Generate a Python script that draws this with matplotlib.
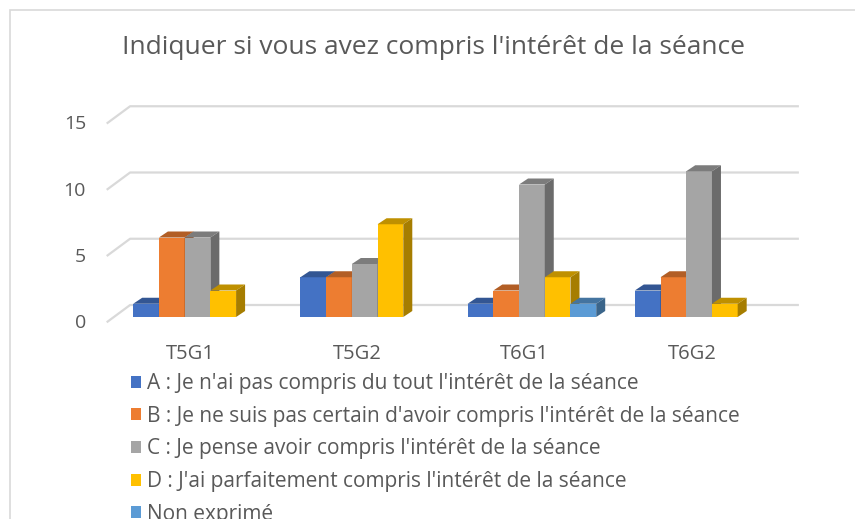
import matplotlib
matplotlib.use("Agg")
import matplotlib.pyplot as plt
from matplotlib.patches import Polygon, Rectangle, Patch
from matplotlib.transforms import offset_copy

plt.rcParams['font.family'] = ['Open Sans', 'DejaVu Sans']

groups = ['T5G1', 'T5G2', 'T6G1', 'T6G2']
series = ["A : Je n'ai pas compris du tout l'intérêt de la séance",
          "B : Je ne suis pas certain d'avoir compris l'intérêt de la séance",
          "C : Je pense avoir compris l'intérêt de la séance",
          "D : J'ai parfaitement compris l'intérêt de la séance",
          "Non exprimé"]
val_a = [1, 3, 1, 2]
val_b = [6, 3, 2, 3]
val_c = [6, 4, 10, 11]
val_d = [2, 7, 3, 1]
val_ne = [0, 0, 1, 0]
values = [val_a, val_b, val_c, val_d, val_ne]
yticks = [0, 5, 10, 15]

colors = ['#4472C4', '#ED7D31', '#A5A5A5', '#FFC000', '#5B9BD5']
grid_col = '#D9D9D9'
text_col = '#595959'


def shade(c, f):
    c = matplotlib.colors.to_rgb(c)
    return tuple(v * f for v in c)


fig = plt.figure(figsize=(8.55, 5.19), dpi=100)
W, H = 855, 519
# front plane of the bars
x0, x1 = 113.9, 782.7
y0, y1 = 317.0, 118.25
ax = fig.add_axes([x0 / W, 1 - y0 / H, (x1 - x0) / W, (y0 - y1) / H])
ax.set_xlim(-0.5, 3.5)
ax.set_ylim(0, 15)
ax.axis('off')

pxx = (x1 - x0) / 4.0      # px per category
pxy = (y0 - y1) / 15.0     # px per unit


def off(dx, dy):
    # pixel offset (right, up) -> data offset
    return dx / pxx, dy / pxy


# chart border
fig.patches.append(Rectangle((10 / W, -0.1), 1.0, (1 - 10 / H) + 0.1,
                             transform=fig.transFigure, fill=False,
                             edgecolor=grid_col, linewidth=1.2))

# gridlines: diagonal on the floor side + back wall
fx, fy = off(-7.2, -5.3)
wx, wy = off(16.2, 12.0)
lab_x = -0.5 + (86 - x0) / pxx
for t in yticks:
    ax.plot([-0.5 + fx, -0.5 + wx, 3.5 + wx], [t + fy, t + wy, t + wy],
            color=grid_col, lw=1.6, clip_on=False, zorder=1,
            solid_capstyle='butt')
    ax.text(lab_x, t, str(t),
            transform=offset_copy(ax.transData, fig, x=0, y=-6, units='dots'),
            ha='right', va='center', fontsize=14, color=text_col)

# bars
bw = 1 / 6.5
bdx, bdy = off(9, 6)
z = 2
for i in range(len(groups)):
    left = i - 2.5 * bw
    for k, vals in enumerate(values):
        v = vals[i]
        if v == 0:
            continue
        xl = left + k * bw
        xr = xl + bw
        c = colors[k]
        ax.add_patch(Polygon([(xl, 0), (xr, 0), (xr, v), (xl, v)],
                             closed=True, facecolor=c, edgecolor='none',
                             zorder=z, clip_on=False))
        ax.add_patch(Polygon([(xl, v), (xr, v), (xr + bdx, v + bdy),
                              (xl + bdx, v + bdy)],
                             closed=True, facecolor=shade(c, 0.75),
                             edgecolor='none', zorder=z, clip_on=False))
        ax.add_patch(Polygon([(xr, 0), (xr + bdx, bdy), (xr + bdx, v + bdy),
                              (xr, v)],
                             closed=True, facecolor=shade(c, 0.65),
                             edgecolor='none', zorder=z, clip_on=False))
        z += 1

# category labels
for i, g in enumerate(groups):
    ax.text(i + fx, fy, g,
            transform=offset_copy(ax.transData, fig, x=0, y=-31.5, units='dots'),
            ha='center', va='center', fontsize=14.5, color=text_col)

fig.text(433 / W, 1 - 48 / H, "Indiquer si vous avez compris l'intérêt de la séance",
         ha='center', va='center', fontsize=19, color=text_col)

handles = [Patch(facecolor=c, edgecolor='none') for c in colors]
leg = fig.legend(handles, series, loc='upper left',
                 bbox_to_anchor=(131 / W, 1 - 373 / H), frameon=False,
                 fontsize=15, handlelength=0.5, handleheight=0.5,
                 handletextpad=0.25, labelspacing=0.56, borderaxespad=0,
                 borderpad=0)
for t in leg.get_texts():
    t.set_color(text_col)

fig.savefig('out.png', dpi=100)
